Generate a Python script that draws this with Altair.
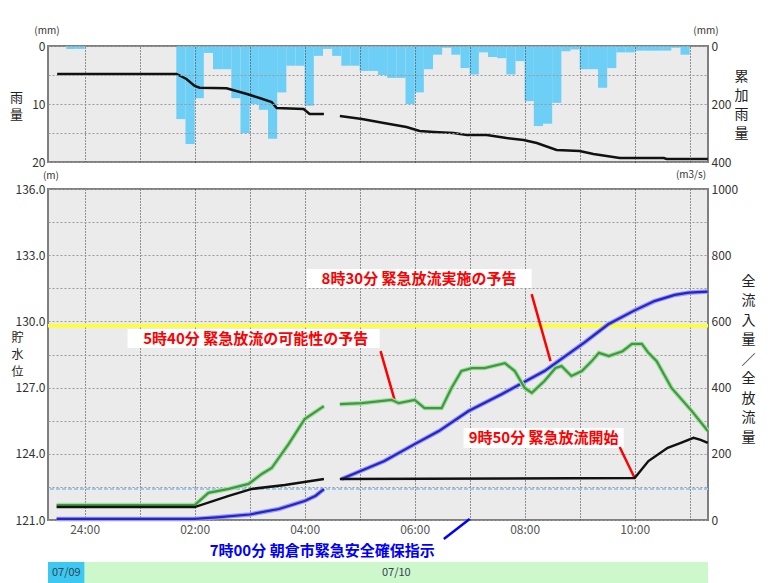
import altair as alt
import pandas as pd
import numpy as np

FONT = "Noto Sans CJK JP"
T0, T1 = -2 / 3, 34 / 3          # 23:20 (07/09) .. 11:20 (07/10), hours from midnight
W = 660
H_TOP, H_MAIN, H_STRIP = 116, 331, 22

# ---------------- data ----------------
# 10-minute rainfall (mm), slots starting 23:20
rain_mm = [0, 0, 0.5, 0.5, 0, 0, 0, 0, 0, 0, 0, 0, 0, 0,
           12.6, 16.9, 9.0, 1.2, 4.0, 4.0, 9.0, 15.0, 10.0, 11.0,
           16.0, 8.0, 3.4, 3.4, 10.3, 1.7, 0.5, 1.7, 3.4, 3.4,
           4.3, 4.3, 5.0, 5.5, 5.5, 10.0, 8.0, 4.0, 1.5, 0.3,
           1.5, 3.8, 4.9, 1.1, 1.9, 2.1, 4.9, 2.6, 9.5, 13.8,
           13.4, 9.8, 0.9, 0.6, 4.0, 4.0, 7.2, 3.8, 1.1, 1.1,
           0.8, 0.8, 0.8, 0.8, 0.3, 1.5, 0, 0]

# cumulative rainfall (mm)
cum_t = [-0.5, 1.67, 1.85, 2.0, 2.09, 2.58, 2.95, 3.18, 3.40, 3.49, 3.98, 4.09, 4.35,
         4.64, 5.04, 5.44, 5.85, 6.09, 6.35, 6.71, 6.95, 7.31, 7.67, 7.98, 8.22, 8.58,
         9.0, 9.25, 9.49, 9.73, 10.53, 10.58, 11.33]
cum_v = [96.5, 96.5, 113.8, 137.9, 143.8, 145.9, 165.5, 179.3, 193, 213.8, 217.2, 234.5, 234.5,
         241.4, 251.7, 265.5, 279.3, 293.1, 296.6, 300, 306.9, 306.9, 317.2, 324.1, 334.5, 358.6,
         362, 372.4, 379.3, 386.2, 386.2, 389.7, 389.7]
cum_seg = [1] * 13 + [2] * 20

# reservoir level (m)
lvl_t = [-0.51, 2.0, 2.4, 3.0, 3.53, 4.0, 4.2, 4.35,
         4.67, 5.45, 6.0, 6.44, 6.98, 7.58, 8.36, 8.67, 9.09, 9.52, 10.0, 10.36, 10.73, 10.98, 11.33]
lvl_v = [121.05, 121.05, 121.12, 121.25, 121.5, 121.86, 122.1, 122.4,
         122.86, 123.67, 124.44, 125.03, 125.94, 126.7, 127.75, 128.3, 129.05, 129.87, 130.5, 130.92,
         131.2, 131.3, 131.35]
lvl_seg = [1] * 8 + [2] * 15

# total inflow (m3/s)
inf_t = [-0.51, 2.0, 2.25, 2.62, 2.98, 3.22, 3.40, 3.71, 4.0, 4.35,
         4.64, 5.04, 5.58, 5.71, 6.0, 6.18, 6.49, 6.67, 6.85, 7.04, 7.27, 7.64, 7.82, 8.0, 8.13,
         8.36, 8.56, 8.67, 8.85, 9.04, 9.22, 9.35, 9.53, 9.78, 9.95, 10.13, 10.25, 10.4, 10.67,
         11.04, 11.33]
inf_v = [45, 45, 82, 94, 109, 139, 157, 230, 305, 344,
         350, 353, 363, 353, 363, 338, 338, 399, 450, 459, 459, 474, 450, 399, 384,
         420, 459, 465, 435, 450, 480, 505, 495, 510, 532, 532, 505, 480, 399,
         329, 269]
inf_seg = [1] * 10 + [2] * 31

# total outflow (m3/s)
out_t = [-0.51, 2.0, 2.62, 3.04, 3.64, 4.35,
         4.64, 10.0, 10.25, 10.6, 10.84, 11.07, 11.2, 11.33]
out_v = [39, 39, 73, 94, 106, 124,
         124, 127, 178, 218, 233, 248, 242, 233]
out_seg = [1] * 6 + [2] * 8

# reference levels (m)
limit_level = [129.8]
normal_level = [122.4]

# red annotations
ann_text = ["5時40分 緊急放流の可能性の予告", "8時30分 緊急放流実施の予告", "9時50分 緊急放流開始"]
ann_tx = [3.11, 6.08, 8.345]
ann_ty = [129.2, 131.94, 124.72]
box_t = [0.78, 4.036, 6.89]
box_t2 = [5.364, 8.127, 9.8]
box_y = [129.65, 132.37, 125.17]
box_y2 = [128.79, 131.51, 124.26]
lead_t = [5.38, 8.127, 9.727]
lead_y = [128.65, 131.24, 124.31]
lead_t2 = [5.64, 8.47, 10.0]
lead_y2 = [126.4, 128.2, 122.9]

# blue annotation
blue_text = ["7時00分 朝倉市緊急安全確保指示"]
blue_tx = [4.318]
blue_ty = [119.6]
blue_lead_t, blue_lead_y, blue_lead_t2, blue_lead_y2 = [6.53], [120.14], [7.0], [121.05]

# date strip
dates = ["07/09", "07/10"]
date_t = [T0, 0]
date_t2 = [0, T1]

# ---------------- frames ----------------
rain_df = pd.DataFrame({"t": [T0 + k / 6 for k in range(len(rain_mm))],
                        "t2": [T0 + (k + 1) / 6 for k in range(len(rain_mm))],
                        "rain": rain_mm})
rain_df = rain_df[rain_df.rain > 0]
cum_df = pd.DataFrame({"t": cum_t, "cum": cum_v, "seg": cum_seg})
lvl_df = pd.DataFrame({"t": lvl_t, "y": lvl_v, "seg": lvl_seg})
inf_df = pd.DataFrame({"t": inf_t, "q": inf_v, "seg": inf_seg})
out_df = pd.DataFrame({"t": out_t, "q": out_v, "seg": out_seg})
box_df = pd.DataFrame({"t": box_t, "t2": box_t2, "y": box_y, "y2": box_y2})
txt_df = pd.DataFrame({"t": ann_tx, "y": ann_ty, "label": ann_text})
lead_df = pd.DataFrame({"t": lead_t, "y": lead_y, "t2": lead_t2, "y2": lead_y2})
btxt_df = pd.DataFrame({"t": blue_tx, "y": blue_ty, "label": blue_text})
blead_df = pd.DataFrame({"t": blue_lead_t, "y": blue_lead_y, "t2": blue_lead_t2, "y2": blue_lead_y2})
strip_df = pd.DataFrame({"t": date_t, "t2": date_t2, "c": dates,
                         "tc": [(a + b) / 2 for a, b in zip(date_t, date_t2)]})

# ---------------- scales / axes ----------------
xscale = alt.Scale(domain=[T0, T1], nice=False, zero=False)
hours = list(range(0, 12))

x_top = alt.X("t:Q", scale=xscale,
              axis=alt.Axis(values=hours, labels=False, ticks=False, domain=False, grid=True,
                            gridColor="#333333", gridDash=[1, 2], title=None, zindex=1))
x_main = alt.X("t:Q", scale=xscale,
               axis=alt.Axis(values=hours,
                             labelExpr="datum.value % 2 == 0 ? (datum.value == 0 ? '24:00' : (datum.value < 10 ? '0' : '') + datum.value + ':00') : ''",
                             labelOverlap=False, labelFlush=False,
                             ticks=False, domain=False, grid=True, gridColor="#333333",
                             gridDash=[1, 2], title=None, labelFontSize=12, labelColor="#555555",
                             labelPadding=4))

y_rain = alt.Y("rain:Q", scale=alt.Scale(domain=[0, 20], reverse=True, nice=False),
               axis=alt.Axis(orient="left", values=[0, 5, 10, 15, 20],
                             labelExpr="datum.value % 10 == 0 ? datum.label : ''",
                             grid=True, gridColor="#9a9a9a", gridDash=[2, 2], ticks=False,
                             domain=False, labelPadding=3, zindex=1,
                             title=["雨", "量"], titleAngle=0, titleX=-32, titleY=51,
                             titleAlign="center", titleBaseline="middle",
                             titleFontSize=13, titleLineHeight=17.5))
y_cum = alt.Y("cum:Q", scale=alt.Scale(domain=[0, 400], reverse=True, nice=False),
              axis=alt.Axis(orient="right", values=[0, 200, 400], grid=False, ticks=False,
                            domain=False, labelPadding=3,
                            title=["累", "加", "雨", "量"], titleAngle=0, titleX=33, titleY=30.5,
                            titleAlign="center", titleBaseline="middle",
                            titleFontSize=14, titleLineHeight=19))

lvl_vals = [float(v) for v in np.round(np.arange(121, 136.01, 1.5), 1)]
y_lvl = alt.Y("y:Q", scale=alt.Scale(domain=[121, 136], nice=False, zero=False),
              axis=alt.Axis(orient="left", values=lvl_vals,
                            labelExpr="abs((datum.value - 121) % 3) < 0.01 ? format(datum.value, '.1f') : ''",
                            grid=True, gridColor="#9a9a9a", gridDash=[2, 2], ticks=False,
                            domain=False, labelPadding=3,
                            title=["貯", "水", "位"], titleAngle=0, titleX=-31, titleY=148,
                            titleAlign="center", titleBaseline="middle",
                            titleFontSize=12, titleLineHeight=17))
y_q = alt.Y("q:Q", scale=alt.Scale(domain=[0, 1000], nice=False),
            axis=alt.Axis(orient="right", values=[0, 200, 400, 600, 800, 1000], format="d",
                          grid=False, ticks=False, domain=False, labelPadding=3,
                          title=["全", "流", "入", "量", "／", "全", "放", "流", "量"],
                          titleAngle=0, titleX=40, titleY=92, titleAlign="center",
                          titleBaseline="middle", titleFontSize=14, titleLineHeight=19.5))

# ---------------- top panel ----------------
bars = alt.Chart(rain_df).mark_rect(color="#6dcff6").encode(
    x=x_top, x2="t2:Q", y=y_rain, y2=alt.datum(0))
cum_line = alt.Chart(cum_df).mark_line(color="#111111", strokeWidth=2.5).encode(
    x=x_top, y=y_cum, detail="seg:N")
units_top = alt.Chart(pd.DataFrame({"u": ["(mm)", "(mm)"], "px": [-1, W - 2]})).mark_text(
    fontSize=10, color="#333333", baseline="middle").encode(
    x=alt.X("px:Q", scale=None), y=alt.value(-15), text="u:N")

top = alt.layer(alt.layer(bars), alt.layer(cum_line), units_top).resolve_scale(
    y="independent").properties(width=W, height=H_TOP)

# ---------------- main panel ----------------
rule_limit = alt.Chart(pd.DataFrame({"y": limit_level})).mark_rule(
    color="#ffff33", strokeWidth=3.5).encode(y=y_lvl)
rule_normal = alt.Chart(pd.DataFrame({"y": normal_level})).mark_rule(
    color="#9cc8ee", strokeWidth=2, strokeDash=[4, 2]).encode(y=y_lvl)
lvl_halo = alt.Chart(lvl_df).mark_line(color="#9a9af0", strokeWidth=4.5).encode(
    x=x_main, y=y_lvl, detail="seg:N")
lvl_line = alt.Chart(lvl_df).mark_line(color="#2424c8", strokeWidth=2.2).encode(
    x=x_main, y=y_lvl, detail="seg:N")
boxes = alt.Chart(box_df).mark_rect(color="white").encode(
    x=x_main, x2="t2:Q", y=y_lvl, y2="y2:Q")
leads = alt.Chart(lead_df).mark_rule(color="#ff0000", strokeWidth=2.5).encode(
    x=x_main, x2="t2:Q", y=y_lvl, y2="y2:Q")
texts = alt.Chart(txt_df).mark_text(color="#ff0000", fontSize=15, fontWeight="bold",
                                    font=FONT, baseline="middle").encode(
    x=x_main, y=y_lvl, text="label:N")
blead = alt.Chart(blead_df).mark_rule(color="#0000ff", strokeWidth=2.5).encode(
    x=x_main, x2="t2:Q", y=y_lvl, y2="y2:Q")
btext = alt.Chart(btxt_df).mark_text(color="#0000ff", fontSize=15, fontWeight="bold",
                                     font=FONT, baseline="middle").encode(
    x=x_main, y=y_lvl, text="label:N")

inf_halo = alt.Chart(inf_df).mark_line(color="#a6dca6", strokeWidth=4.5).encode(
    x=x_main, y=y_q, detail="seg:N")
inf_line = alt.Chart(inf_df).mark_line(color="#3c9c3c", strokeWidth=2.2).encode(
    x=x_main, y=y_q, detail="seg:N")
out_line = alt.Chart(out_df).mark_line(color="#111111", strokeWidth=2.5).encode(
    x=x_main, y=y_q, detail="seg:N")

units_main = alt.Chart(pd.DataFrame({"u": ["(m)", "(m3/s)"], "px": [3, W - 17],
                                     "py": [-13, -14]})).mark_text(
    fontSize=10, color="#333333", baseline="middle").encode(
    x=alt.X("px:Q", scale=None), y=alt.Y("py:Q", scale=None), text="u:N")

left_layer = alt.layer(rule_normal, rule_limit, lvl_halo, lvl_line, boxes, leads, texts,
                       blead, btext)
right_layer = alt.layer(inf_halo, inf_line, out_line)
main = alt.layer(left_layer, right_layer, units_main).resolve_scale(
    y="independent").properties(width=W, height=H_MAIN)

# ---------------- date strip ----------------
x_strip = alt.X("t:Q", scale=xscale, axis=None)
strip_rect = alt.Chart(strip_df).mark_rect().encode(
    x=x_strip, x2="t2:Q", y=alt.value(0), y2=alt.value(H_STRIP),
    color=alt.Color("c:N", scale=alt.Scale(domain=dates, range=["#3cc8f0", "#ccf8cc"]),
                    legend=None))
strip_text = alt.Chart(strip_df).mark_text(fontSize=11, color="#334455",
                                           baseline="middle").encode(
    x=alt.X("tc:Q", scale=xscale, axis=None), y=alt.value(11), text="c:N")
strip = alt.layer(strip_rect, strip_text).properties(
    width=W, height=H_STRIP, view=alt.ViewBackground(fill="white", stroke="transparent"))

chart = alt.vconcat(
    top,
    alt.vconcat(main, strip, spacing=42, bounds="flush"),
    spacing=27, bounds="flush",
).properties(
    padding={"left": 0, "top": 17, "right": 4, "bottom": 0},
    background="white",
).configure(font=FONT).configure_view(
    fill="#ebebeb", stroke="#7f7f7f", strokeWidth=2
).configure_axis(
    labelFont=FONT, titleFont=FONT, labelColor="#333333", labelFontSize=12,
    titleColor="#222222", titleFontWeight="normal"
)

chart.save("out.html", embed_options={"renderer": "svg", "actions": False})
